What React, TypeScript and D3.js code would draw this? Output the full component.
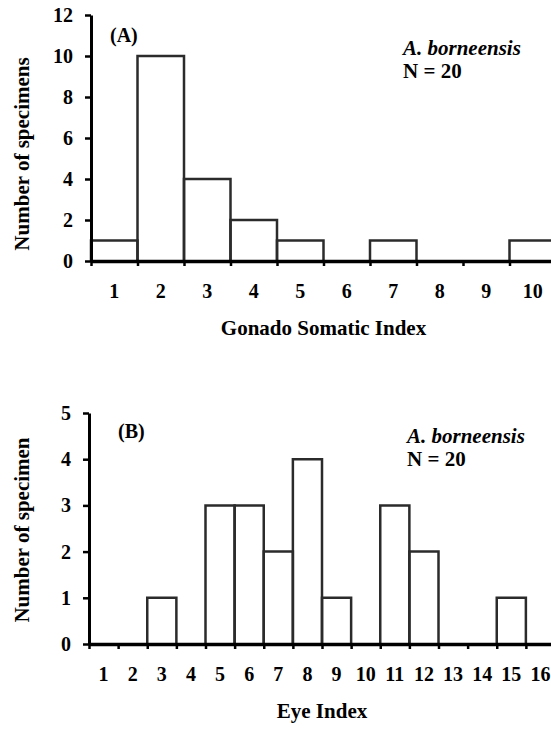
import * as d3 from "d3";
import { useRef, useEffect } from "react";

// Panel A: Gonado Somatic Index
const gsiBins = ["1", "2", "3", "4", "5", "6", "7", "8", "9", "10"];
const gsiCounts = [1, 10, 4, 2, 1, 0, 1, 0, 0, 1];
const gsiYTicks = [0, 2, 4, 6, 8, 10, 12];

// Panel B: Eye Index
const eyeBins = ["1", "2", "3", "4", "5", "6", "7", "8", "9", "10", "11", "12", "13", "14", "15", "16"];
const eyeCounts = [0, 0, 1, 0, 3, 3, 2, 4, 1, 0, 3, 2, 0, 0, 1, 0];
const eyeYTicks = [0, 1, 2, 3, 4, 5];

const width = 551;
const height = 730;
const font = "'Liberation Serif', 'Times New Roman', serif";
const fontSize = 20;

function drawPanel(svg, { bins, counts, yTicks, left, right, top, bottom,
    panelLabel, labelX, labelY, speciesX, speciesY, xTitle, yTitle, yTitleY }) {
    const g = svg.append("g");

    const x = d3.scaleLinear()
        .domain([0.5, bins.length + 0.5])
        .range([left, right]);

    const y = d3.scaleLinear()
        .domain([0, d3.max(yTicks)])
        .range([bottom, top]);

    // bars
    g.append("g")
        .attr("fill", "none")
        .attr("stroke", "#2b2b2b")
        .attr("stroke-width", 2.5)
        .selectAll("path")
        .data(counts.map((c, i) => ({ c, i })).filter(d => d.c > 0))
        .join("path")
            .attr("d", d => {
                const x0 = x(d.i + 0.5), x1 = x(d.i + 1.5), yt = y(d.c), yb = y(0);
                return `M${x0},${yb}V${yt}H${x1}V${yb}`;
            });

    // x axis: boundary ticks
    const xAxis = g.append("g")
        .attr("transform", `translate(0,${bottom})`)
        .call(d3.axisBottom(x)
            .tickValues(d3.range(0, bins.length).map(i => i + 0.5))
            .tickSize(5)
            .tickSizeOuter(0)
            .tickFormat(() => ""));
    xAxis.select(".domain").attr("stroke-width", 3.5);
    xAxis.selectAll(".tick line").attr("stroke-width", 2.5);

    // x tick labels at bin centres
    g.append("g")
        .attr("font-family", font)
        .attr("font-weight", "bold")
        .attr("font-size", fontSize)
        .attr("text-anchor", "middle")
        .selectAll("text")
        .data(bins)
        .join("text")
            .attr("x", (d, i) => x(i + 1))
            .attr("y", bottom + 37)
            .text(d => d);

    // y axis
    const yAxis = g.append("g")
        .attr("transform", `translate(${left},0)`)
        .call(d3.axisLeft(y)
            .tickValues(yTicks)
            .tickFormat(d3.format("d"))
            .tickSize(6)
            .tickSizeOuter(0)
            .tickPadding(12));
    yAxis.select(".domain").attr("stroke-width", 3);
    yAxis.selectAll(".tick line").attr("stroke-width", 2.5);
    yAxis.selectAll(".tick text")
        .attr("font-family", font)
        .attr("font-weight", "bold")
        .attr("font-size", fontSize);

    // axis titles
    g.append("text")
        .attr("font-family", font)
        .attr("font-weight", "bold")
        .attr("font-size", fontSize + 1)
        .attr("text-anchor", "middle")
        .attr("x", (left + right) / 2)
        .attr("y", bottom + 74)
        .text(xTitle);

    g.append("text")
        .attr("font-family", font)
        .attr("font-weight", "bold")
        .attr("font-size", fontSize + 1)
        .attr("text-anchor", "middle")
        .attr("transform", `translate(29,${yTitleY}) rotate(-90)`)
        .text(yTitle);

    // panel label and species note
    g.append("text")
        .attr("font-family", font)
        .attr("font-weight", "bold")
        .attr("font-size", fontSize)
        .attr("x", labelX)
        .attr("y", labelY)
        .text(panelLabel);

    g.append("text")
        .attr("font-family", font)
        .attr("font-weight", "bold")
        .attr("font-style", "italic")
        .attr("font-size", fontSize + 1)
        .attr("x", speciesX)
        .attr("y", speciesY)
        .text("A. borneensis");

    g.append("text")
        .attr("font-family", font)
        .attr("font-weight", "bold")
        .attr("font-size", fontSize + 1)
        .attr("x", speciesX)
        .attr("y", speciesY + 23)
        .text("N = 20");
}

export default function App() {
    const ref = useRef(null);

    useEffect(() => {
        const svg = d3.select(ref.current);
        svg.selectAll("*").remove();

        drawPanel(svg, {
            bins: gsiBins, counts: gsiCounts, yTicks: gsiYTicks,
            left: 91, right: 556, top: 15, bottom: 261,
            panelLabel: "(A)", labelX: 110, labelY: 42,
            speciesX: 403, speciesY: 55,
            xTitle: "Gonado Somatic Index", yTitle: "Number of specimens", yTitleY: 154,
        });

        drawPanel(svg, {
            bins: eyeBins, counts: eyeCounts, yTicks: eyeYTicks,
            left: 89, right: 555, top: 413, bottom: 644,
            panelLabel: "(B)", labelX: 118, labelY: 438,
            speciesX: 407, speciesY: 443,
            xTitle: "Eye Index", yTitle: "Number of specimen", yTitleY: 530,
        });
    }, []);

    return (
        <svg ref={ref} width={width} height={height}
            style={{ position: "absolute", left: 0, top: 0, background: "#fff" }} />
    );
}
